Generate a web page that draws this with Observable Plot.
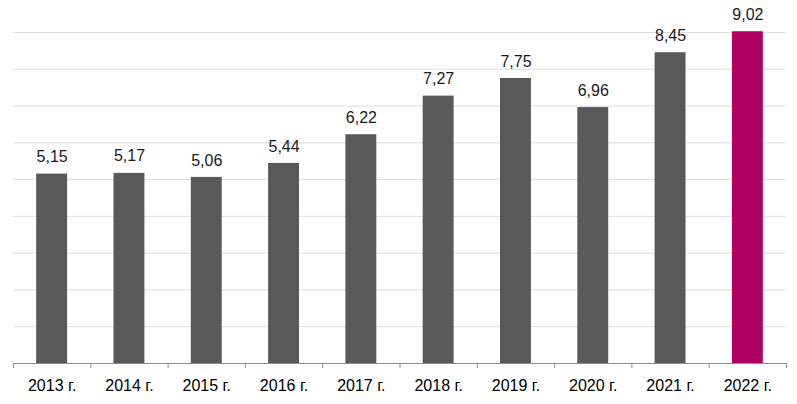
<!DOCTYPE html>
<html>
<head>
<meta charset="utf-8">
<script src="https://cdn.jsdelivr.net/npm/d3@7"></script>
<script src="https://cdn.jsdelivr.net/npm/@observablehq/plot@0.6"></script>
<style>
  html, body { margin: 0; padding: 0; background: #fff; }
  #chart { width: 797px; height: 404px; }
</style>
</head>
<body>
<div id="chart"></div>
<script>
const years = ["2013 г.", "2014 г.", "2015 г.", "2016 г.", "2017 г.", "2018 г.", "2019 г.", "2020 г.", "2021 г.", "2022 г."];
const values = [5.15, 5.17, 5.06, 5.44, 6.22, 7.27, 7.75, 6.96, 8.45, 9.02];
const highlightYear = "2022 г.";
const gridValues = [1, 2, 3, 4, 5, 6, 7, 8, 9];

const data = years.map((y, i) => ({year: y, value: values[i]}));
const fmt = v => v.toFixed(2).replace(".", ",");

const W = 797, H = 404;
const mL = 13, mR = 11, mT = 32, mB = 41;
const step = (W - mL - mR) / years.length;

const chart = Plot.plot({
  width: W,
  height: H,
  marginLeft: mL,
  marginRight: mR,
  marginTop: mT,
  marginBottom: mB,
  style: {fontFamily: "Arial, 'Liberation Sans', sans-serif", background: "#fff", overflow: "visible"},
  x: {domain: years, paddingInner: 0.6, paddingOuter: 0.3, round: false, axis: null},
  y: {domain: [0, 9], axis: null},
  marks: [
    Plot.ruleY(gridValues, {y: d => d, stroke: "#dedede", strokeWidth: 1}),
    Plot.barY(data, {x: "year", y: "value", fill: d => d.year === highlightYear ? "#ad0060" : "#595959"}),
    Plot.text(data, {x: "year", y: "value", text: d => fmt(d.value), dy: -17, fontSize: 16, fill: "#1a1a1a"}),
    Plot.ruleY([0], {stroke: "#8c8c8c", strokeWidth: 1}),
    Plot.ruleX(years, {x: d => d, y1: 0, y2: -0.14, dx: -step / 2, stroke: "#8c8c8c", strokeWidth: 1}),
    Plot.ruleX([years[years.length - 1]], {x: d => d, y1: 0, y2: -0.14, dx: step / 2, stroke: "#8c8c8c", strokeWidth: 1}),
    Plot.text(years, {x: d => d, y: 0, text: d => d, dy: 22, fontSize: 16, fill: "#000"})
  ]
});
document.getElementById("chart").appendChild(chart);
</script>
</body>
</html>
